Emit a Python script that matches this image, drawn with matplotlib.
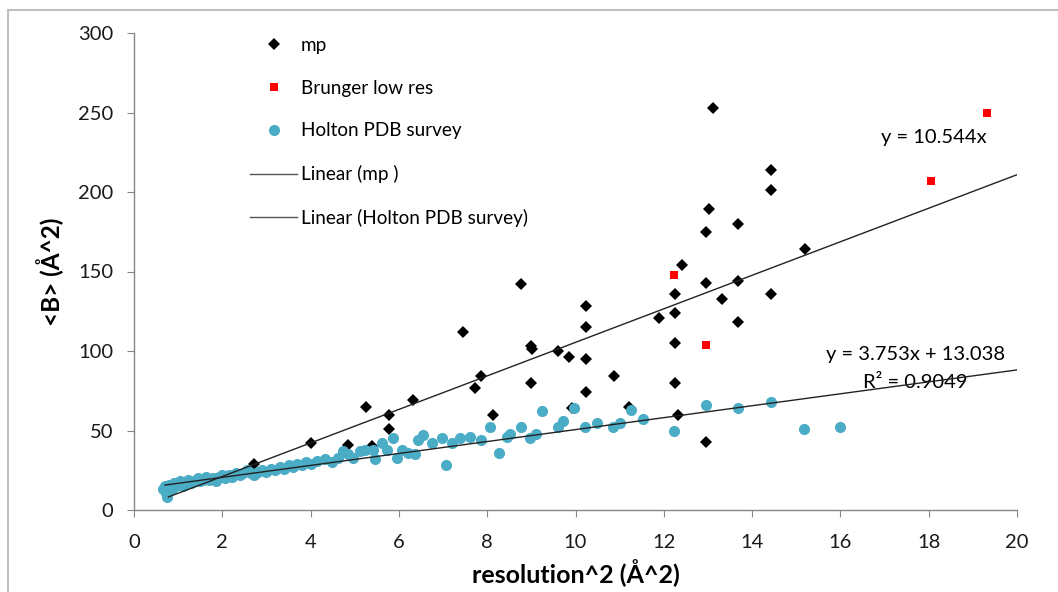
import matplotlib
matplotlib.use('Agg')
import matplotlib.pyplot as plt
from matplotlib.lines import Line2D
from matplotlib.patches import Rectangle
import numpy as np

plt.rcParams['font.family'] = ['Lato', 'DejaVu Sans']

# mp (black diamonds)
mp_x = [2.72, 4.0, 4.85, 5.25, 5.4, 5.77, 5.77, 6.32, 7.45, 7.72, 7.86, 8.13,
        8.77, 8.99, 9.02, 8.99, 9.6, 9.85, 9.92, 10.24, 10.24, 10.24, 10.24,
        10.87, 11.21, 11.89, 12.25, 12.25, 12.25, 12.25, 12.32, 12.41, 12.96,
        13.02, 12.96, 12.96, 13.11, 13.32, 13.68, 13.68, 13.68, 14.43, 14.43,
        14.43, 15.2]
mp_y = [29, 42, 41, 65, 40, 60, 51, 69, 112, 77, 84, 60,
        142, 103, 101, 80, 100, 96, 64, 128, 115, 95, 74,
        84, 65, 121, 136, 124, 105, 80, 60, 154, 175,
        189, 143, 43, 253, 133, 180, 144, 118, 214, 201,
        136, 164]

# Brunger low res (red squares)
brunger_x = [12.23, 12.96, 18.05, 19.33]
brunger_y = [148, 104, 207, 250]

# Holton PDB survey (teal circles)
holton_x = [0.66, 0.70, 0.72, 0.75, 0.78, 0.80, 0.85, 0.90, 0.95, 1.00, 1.05,
            1.10, 1.17, 1.23, 1.30, 1.36, 1.44, 1.50, 1.56, 1.64, 1.70, 1.78,
            1.85, 1.92, 2.00, 2.07, 2.15, 2.23, 2.30, 2.40, 2.48, 2.56, 2.64,
            2.72, 2.80, 2.90, 3.00, 3.10, 3.20, 3.30, 3.40, 3.50, 3.60, 3.70,
            3.80, 3.90, 4.00, 4.14, 4.33, 4.49, 4.62, 4.73, 4.85, 4.96, 5.12,
            5.23, 5.41, 5.46, 5.62, 5.73, 5.87, 5.96, 6.07, 6.21, 6.36, 6.43,
            6.55, 6.75, 6.98, 7.07, 7.2, 7.38, 7.61, 7.86, 8.06, 8.27, 8.45,
            8.52, 8.77, 8.97, 9.1, 9.24, 9.6, 9.72, 9.97, 10.21, 10.49, 10.85,
            11.01, 11.26, 11.53, 12.23, 12.96, 13.68, 14.43, 15.18, 16.0]
holton_y = [13, 15, 11, 8, 14, 16, 13, 17, 15, 16, 18,
            15, 17, 19, 17, 18, 20, 18, 19, 21, 19, 20,
            18, 21, 22, 20, 22, 21, 23, 22, 23, 25, 23,
            22, 24, 25, 24, 26, 25, 27, 26, 28, 27, 29,
            28, 30, 29, 31, 32, 30, 33, 37, 35, 33, 37,
            38, 38, 32, 42, 38, 45, 33, 38, 36, 35, 44,
            47, 42, 45, 28, 42, 45, 46, 44, 52, 36, 46,
            48, 52, 45, 48, 62, 52, 56, 64, 52, 55, 52,
            55, 63, 57, 50, 66, 64, 68, 51, 52]

# trendlines (as printed on the chart)
mp_slope = 10.544
holton_slope, holton_icpt = 3.753, 13.038
holton_r2 = 0.9049

teal = '#4BACC6'

fig = plt.figure(figsize=(10.58, 5.92), dpi=100)
ax = fig.add_axes([134 / 1058, 1 - 510 / 592, 883 / 1058, 477 / 592])

ax.plot(mp_x, mp_y, 'D', color='black', markersize=6.6, markeredgewidth=0, label='mp', zorder=2)
ax.plot(brunger_x, brunger_y, 's', color='#FF0000', markersize=5.6, markeredgewidth=0,
        label='Brunger low res', zorder=3)
ax.plot(holton_x, holton_y, 'o', color=teal, markersize=8.0, markeredgewidth=0,
        label='Holton PDB survey', zorder=4)

xl = np.array([0.78, 20])
ax.plot(xl, mp_slope * xl, color='#222222', linewidth=1.0, zorder=5)
xh = np.array([0.7, 20])
ax.plot(xh, holton_slope * xh + holton_icpt, color='#222222', linewidth=1.0, zorder=5)

ax.text(18.12, 234, 'y = %.3fx' % mp_slope, fontsize=14.5, ha='center', va='center')
ax.text(17.71, 97.5, 'y = %.3fx + %.3f' % (holton_slope, holton_icpt), fontsize=14.5,
        ha='center', va='center')
ax.text(17.69, 80, 'R² = %.4f' % holton_r2, fontsize=14.5, ha='center', va='center')

ax.set_xlim(0, 20)
ax.set_ylim(0, 300)
ax.set_xticks(range(0, 21, 2))
ax.set_yticks(range(0, 301, 50))
for s in ['top', 'right']:
    ax.spines[s].set_visible(False)
for s in ['left', 'bottom']:
    ax.spines[s].set_color('#868686')
    ax.spines[s].set_linewidth(1.0)
ax.tick_params(colors='#868686', labelcolor='#1a1a1a', labelsize=14.5, length=5, pad=10)
ax.tick_params(axis='x', pad=12)

ax.set_xlabel('resolution^2 (Å^2)', fontsize=18, fontweight='bold', labelpad=6)
ax.set_ylabel('<B> (Å^2)', fontsize=17.5, fontweight='bold', labelpad=10)

handles = [
    Line2D([], [], marker='D', color='black', linestyle='none', markersize=6.6, markeredgewidth=0),
    Line2D([], [], marker='s', color='#FF0000', linestyle='none', markersize=5.6, markeredgewidth=0),
    Line2D([], [], marker='o', color=teal, linestyle='none', markersize=8.0, markeredgewidth=0),
    Line2D([], [], color='#555555', linewidth=1.0),
    Line2D([], [], color='#555555', linewidth=1.0),
]
labels = ['mp', 'Brunger low res', 'Holton PDB survey', 'Linear (mp )', 'Linear (Holton PDB survey)']
leg = ax.legend(handles, labels, loc='upper left', bbox_to_anchor=(250 / 1058, 1 - 37 / 592),
                bbox_transform=fig.transFigure, frameon=False, fontsize=13.6,
                handlelength=2.5, handletextpad=0.2, labelspacing=1.36, borderpad=0,
                borderaxespad=0)

# outer chart frame (cut off at right and bottom)
fig.add_artist(Rectangle((8 / 1058, -0.1), 1.2, 1 - 10 / 592 + 0.1, transform=fig.transFigure,
                         fill=False, edgecolor='#c0c0c0', linewidth=1.5))

fig.savefig('out.png', dpi=100)
